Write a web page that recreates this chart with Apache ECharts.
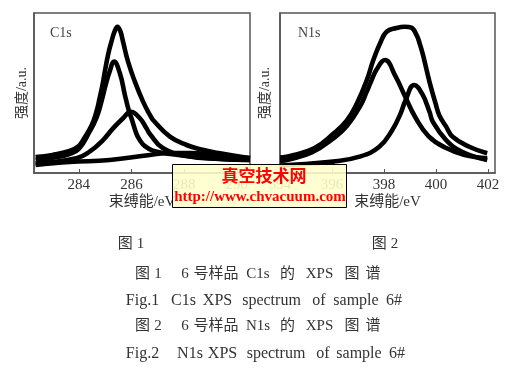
<!DOCTYPE html>
<html>
<head>
<meta charset="utf-8">
<script src="https://cdn.jsdelivr.net/npm/echarts@6/dist/echarts.min.js"></script>
<style>
html,body{margin:0;padding:0;background:#fff;}
#chart{width:518px;height:372px;}
</style>
</head>
<body>
<div id="chart"></div>
<script>
// ---- Data (binding energy eV, intensity a.u.) ----
const c1sTicks = [284, 286, 288, 290];
const n1sTicks = [394, 396, 398, 400, 402];

const c1sEnvelope = [[282.36,10.0],[283.0,11.3],[283.65,13.8],[284.0,16.9],[284.16,20.5],[284.48,29.5],[284.67,38.3],[284.79,46.7],[284.9,55],[284.98,62.5],[285.11,73.8],[285.24,82.1],[285.36,88.5],[285.47,91.4],[285.58,88.5],[285.68,82.1],[285.87,69.6],[286.13,57.1],[286.44,44.6],[286.70,36.3],[286.82,33.1],[287.46,22.7],[288.09,17.5],[288.7,14.5],[289.36,12.3],[290.5,9.2]];
const c1sPeakA = [[282.36,8.1],[283.0,9.4],[283.65,11.9],[284.0,15],[284.41,25.8],[284.67,34.4],[284.86,44.6],[285.02,55],[285.17,63.3],[285.34,69.6],[285.56,62.3],[285.75,48.8],[285.91,38.3],[286.0,34.2],[286.19,24.5],[286.32,20.5],[286.51,16.8],[286.81,14],[287.46,11.9],[288.71,9.6],[290.5,8.1]];
const c1sPeakB = [[282.36,6.0],[283.91,9.2],[284.41,13.3],[284.92,20.6],[285.30,27.9],[285.68,34.2],[285.97,38.3],[286.32,34.2],[286.57,27.9],[286.70,24.4],[287.19,15.6],[288.10,10.6],[289.36,8.75],[290.5,8.1]];
const c1sPeakC = [[282.36,5.0],[283.65,6.9],[285.17,8.1],[286.70,11.3],[287.46,12.5],[288.22,12.5],[289.36,10.9],[290.5,9.4]];

const n1sEnvelope = [[394.0,9.7],[394.35,10.5],[395.31,15.4],[396.07,24.8],[396.58,33.1],[396.96,43.6],[397.34,58.1],[397.59,70.6],[397.85,81.1],[398.10,88.3],[398.48,90.6],[398.8,91.4],[399.05,90.8],[399.25,86.3],[399.37,81.1],[399.50,73.8],[399.75,57],[400.0,42.5],[400.13,36],[400.39,29],[400.64,22.7],[401.28,16.4],[401.97,12.3]];
const n1sPeakA = [[394.0,7.6],[394.35,8.4],[395.24,13.0],[396.04,21.5],[396.58,29.5],[397.09,42.0],[397.34,51.0],[397.47,56.0],[397.72,64.8],[398.04,70.6],[398.44,60.5],[398.83,47.2],[399.21,34.7],[399.71,23.1],[400.35,15.9],[401.1,11.3],[401.97,9.2]];
const n1sPeakB = [[394.0,4.7],[394.35,5.0],[396.04,7.1],[397.06,10.2],[397.82,16.4],[398.32,26.9],[398.64,37.3],[398.83,45.5],[399.16,55],[399.47,49.4],[399.75,38.3],[399.88,32],[400.39,20.6],[401.0,13.3],[401.97,8.1]];

// ---- Texts ----
const panelNames = ['C1s', 'N1s'];
const xName = '束缚能/eV';
const yName = '强度/a.u.';
const subLabels = ['图 1', '图 2'];
const caption1 = ['图', '1', '6', '号样品', 'C1s', '的', 'XPS', '图', '谱'];
const caption2 = ['Fig.1', 'C1s', 'XPS', 'spectrum', 'of', 'sample', '6#'];
const caption3 = ['图', '2', '6', '号样品', 'N1s', '的', 'XPS', '图', '谱'];
const caption4 = ['Fig.2', 'N1s', 'XPS', 'spectrum', 'of', 'sample', '6#'];
const watermark = ['真空技术网', 'http://www.chvacuum.com'];

const SERIF = '"Liberation Serif","Noto Sans CJK SC",serif';
const MIX = '"Liberation Serif","Noto Sans CJK SC",serif';

function makeX(idx, min, max, ticks) {
  return {
    gridIndex: idx, type: 'value', min: min, max: max,
    axisLine: {show: true, lineStyle: {color: '#555', width: 1.5}},
    axisTick: {show: true, inside: true, length: 4, customValues: ticks, lineStyle: {color: '#555'}},
    axisLabel: {show: true, customValues: ticks, color: '#333', fontSize: 15, fontFamily: SERIF, margin: 5},
    splitLine: {show: false},
    name: xName, nameLocation: 'middle', nameGap: 22,
    nameTextStyle: {color: '#333', fontSize: 15, fontFamily: MIX}
  };
}
function makeY(idx, gap) {
  return {
    gridIndex: idx, type: 'value', min: 0, max: 100,
    axisLine: {show: true, lineStyle: {color: '#555', width: 1.5}},
    axisTick: {show: false}, axisLabel: {show: false}, splitLine: {show: false},
    name: yName, nameLocation: 'middle', nameGap: gap, nameRotate: 90,
    nameTextStyle: {color: '#333', fontSize: 14, fontFamily: MIX}
  };
}
function line(idx, data) {
  return {
    type: 'line', xAxisIndex: idx, yAxisIndex: idx, data: data,
    smooth: 0.45, showSymbol: false, symbol: 'none',
    lineStyle: {color: '#000', width: 4.6}, silent: true, animation: false
  };
}
function segs(words, xs, y, size) {
  return words.map(function (w, i) {
    return {type: 'text', x: xs[i], y: y, style: {text: w, font: size + 'px ' + MIX, fill: '#333', align: 'center', verticalAlign: 'middle'}};
  });
}

const cnX = [142.5, 158, 185, 216, 258, 287.5, 319.5, 352, 373];
const en1X = [142.5, 183.5, 217.5, 271.5, 319, 356, 394];
const en2X = [142.5, 190, 222.5, 276, 323, 359, 397];

const chart = echarts.init(document.getElementById('chart'), null, {renderer: 'canvas'});
chart.setOption({
  backgroundColor: '#fff',
  animation: false,
  grid: [
    {left: 34, top: 13, width: 216, height: 160, show: true, borderColor: '#555', borderWidth: 1.5, containLabel: false, outerBoundsMode: 'none'},
    {left: 280, top: 13, width: 215, height: 160, show: true, borderColor: '#555', borderWidth: 1.5, containLabel: false, outerBoundsMode: 'none'}
  ],
  xAxis: [makeX(0, 282.3, 290.5, c1sTicks), makeX(1, 394, 402.27, n1sTicks)],
  yAxis: [makeY(0, 5), makeY(1, 8)],
  series: [
    line(0, c1sPeakC), line(0, c1sPeakB), line(0, c1sPeakA), line(0, c1sEnvelope),
    line(1, n1sPeakB), line(1, n1sPeakA), line(1, n1sEnvelope)
  ],
  graphic: [
    {type: 'text', left: 50, top: 26, style: {text: panelNames[0], font: '14px ' + SERIF, fill: '#444'}},
    {type: 'text', left: 298, top: 26, style: {text: panelNames[1], font: '14px ' + SERIF, fill: '#444'}},
    {type: 'text', x: 131, y: 244, style: {text: subLabels[0], font: '15px ' + MIX, fill: '#333', align: 'center', verticalAlign: 'middle'}},
    {type: 'text', x: 385, y: 244, style: {text: subLabels[1], font: '15px ' + MIX, fill: '#333', align: 'center', verticalAlign: 'middle'}}
  ].concat(segs(caption1, cnX, 274, 15))
   .concat(segs(caption2, en1X, 301, 16))
   .concat(segs(caption3, cnX, 326, 15))
   .concat(segs(caption4, en2X, 354, 16))
   .concat([
    {type: 'rect', z: 100, shape: {x: 172.5, y: 164.5, width: 174, height: 43}, style: {fill: 'rgba(255,255,204,0.88)', stroke: '#000', lineWidth: 1}},
    {type: 'text', z: 101, x: 264, y: 176, style: {text: watermark[0], font: 'bold 17px "Noto Sans CJK SC",sans-serif', fill: '#ff0000', align: 'center', verticalAlign: 'middle'}},
    {type: 'text', z: 101, x: 260, y: 197, style: {text: watermark[1], font: 'bold 15px "Liberation Serif",serif', fill: '#ff0000', align: 'center', verticalAlign: 'middle'}}
  ])
});
</script>
</body>
</html>
